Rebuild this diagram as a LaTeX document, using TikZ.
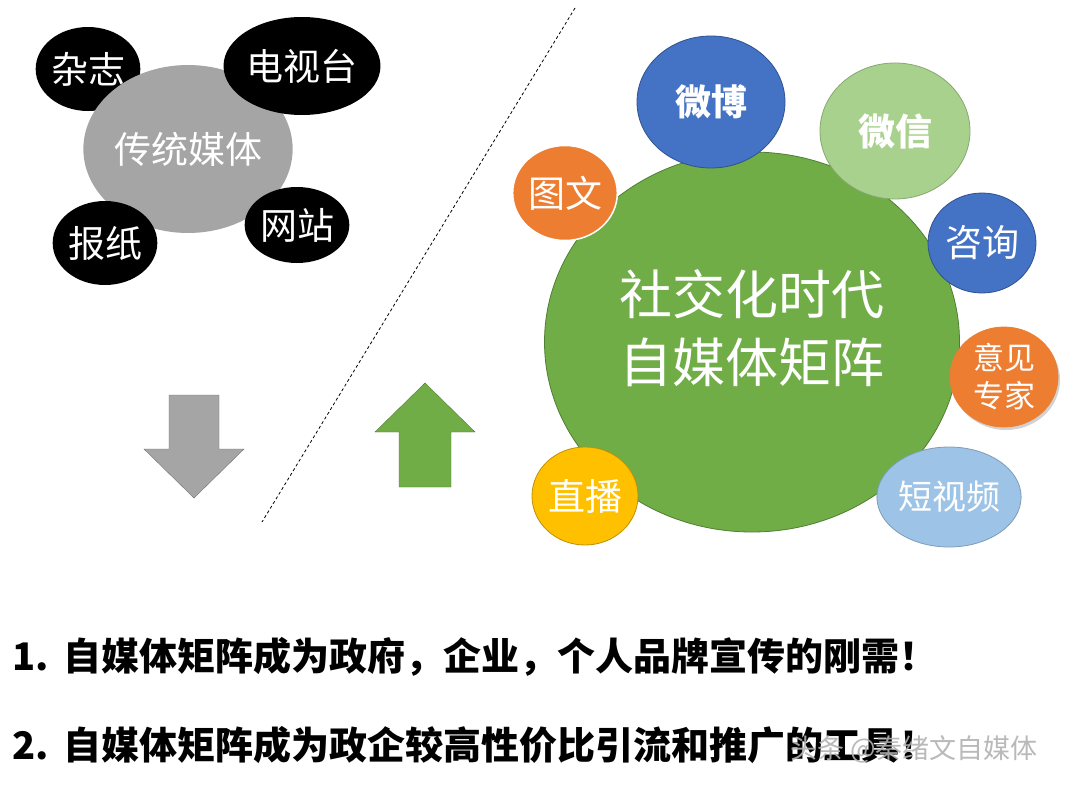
\documentclass[tikz,border=0pt]{standalone}
\usepackage{fontspec}
\setmainfont{Noto Sans CJK SC}[BoldFont={Noto Sans CJK SC Black}]
\usetikzlibrary{shapes.geometric, shadows}
\definecolor{oldgray}{HTML}{A5A5A5}
\definecolor{matrixgreen}{HTML}{70AD47}
\definecolor{darkgreen}{HTML}{507E32}
\definecolor{weiboblue}{HTML}{4472C4}
\definecolor{darkblue}{HTML}{2F528F}
\definecolor{lightgreen}{HTML}{A9D18E}
\definecolor{tuwenorange}{HTML}{ED7D31}
\definecolor{zhibogold}{HTML}{FFC000}
\definecolor{lightblue}{HTML}{9DC3E6}

\begin{document}
\begin{tikzpicture}[x=1pt, y=-1pt,
  bubble/.style={ellipse, inner sep=0pt, text=white, align=center},
  oldmedia/.style={bubble, fill=black, font=\fontsize{37}{40}\selectfont},
  newmedia/.style={bubble, line width=0.8pt, font=\fontsize{37}{40}\selectfont},
  bottomline/.style={anchor=west, inner sep=0pt, font=\bfseries\fontsize{38}{40}\selectfont}]
\useasboundingbox[fill=white] (0,0) rectangle (1068,787);
\node[oldmedia, minimum width=92, minimum height=84] (zazhi) at (88,69) {杂志};
\node[bubble, fill=oldgray, minimum width=188, minimum height=168, font=\fontsize{37}{40}\selectfont] (chuantong) at (188,149) {传统媒体};
\node[oldmedia, minimum width=122, minimum height=98] (dianshi) at (302,66) {电视台};
\node[oldmedia, minimum width=96, minimum height=84] (baozhi) at (105,243) {报纸};
\node[oldmedia, minimum width=96, minimum height=76] (wangzhan) at (297,225) {网站};
\draw[fill=oldgray, draw=oldgray!70!black] (169,395) -- (219,395) -- (219,449) -- (244,449) -- (194,498) -- (144,449) -- (169,449) -- cycle;
\coordinate (cuttop) at (575,8);
\coordinate (cutbottom) at (262,522);
\draw[dash pattern=on 3pt off 2.5pt, line width=0.8pt] (cuttop) -- (cutbottom);
\draw[fill=matrixgreen, draw=darkgreen] (425,383) -- (475,432) -- (451,432) -- (451,487) -- (399,487) -- (399,432) -- (375,432) -- cycle;
\node[newmedia, fill=matrixgreen, draw=darkgreen, minimum width=415, minimum height=380, text depth=33pt, font=\fontsize{53}{68}\selectfont] (juzhen) at (752,342) {社交化时代\\自媒体矩阵};
\node[newmedia, fill=weiboblue, draw=darkblue, minimum width=148, minimum height=132, font=\bfseries\fontsize{36}{40}\selectfont] (weibo) at (711,102) {微博};
\node[newmedia, fill=lightgreen, draw=lightgreen!80!black, minimum width=150, minimum height=136, font=\bfseries\fontsize{37}{40}\selectfont] (weixin) at (895,131) {微信};
\node[newmedia, fill=tuwenorange, draw=white, line width=1.5pt, minimum width=104, minimum height=95] (tuwen) at (565,193) {图文};
\node[newmedia, fill=weiboblue, draw=darkblue, minimum width=108, minimum height=100] (zixun) at (982,243) {咨询};
\node[newmedia, fill=tuwenorange, draw=tuwenorange, minimum width=108, minimum height=100, font=\fontsize{31}{38}\selectfont, drop shadow={shadow xshift=2pt, shadow yshift=-3pt, opacity=0.35}] (zhuanjia) at (1004,377) {意见\\专家};
\node[newmedia, fill=lightblue, draw=lightblue!80!black, minimum width=108, minimum height=100, font=\fontsize{34}{40}\selectfont] (duanshipin) at (949,497) {短视频};
\node[newmedia, fill=zhibogold, draw=zhibogold!75!black, minimum width=106, minimum height=98] (zhibo) at (585,496) {直播};
\node[bottomline] (line1) at (12,657) {1.\hspace{0.4em}自媒体矩阵成为政府，企业，个人品牌宣传的刚需！};
\node[bottomline] (line2) at (12,745) {2.\hspace{0.4em}自媒体矩阵成为政企较高性价比引流和推广的工具！};
\node[anchor=west, inner sep=0pt, text=gray!60, opacity=0.9, font=\fontsize{27}{30}\selectfont] (mark) at (790,749) {头条 @秦绪文自媒体};
\end{tikzpicture}
\end{document}
